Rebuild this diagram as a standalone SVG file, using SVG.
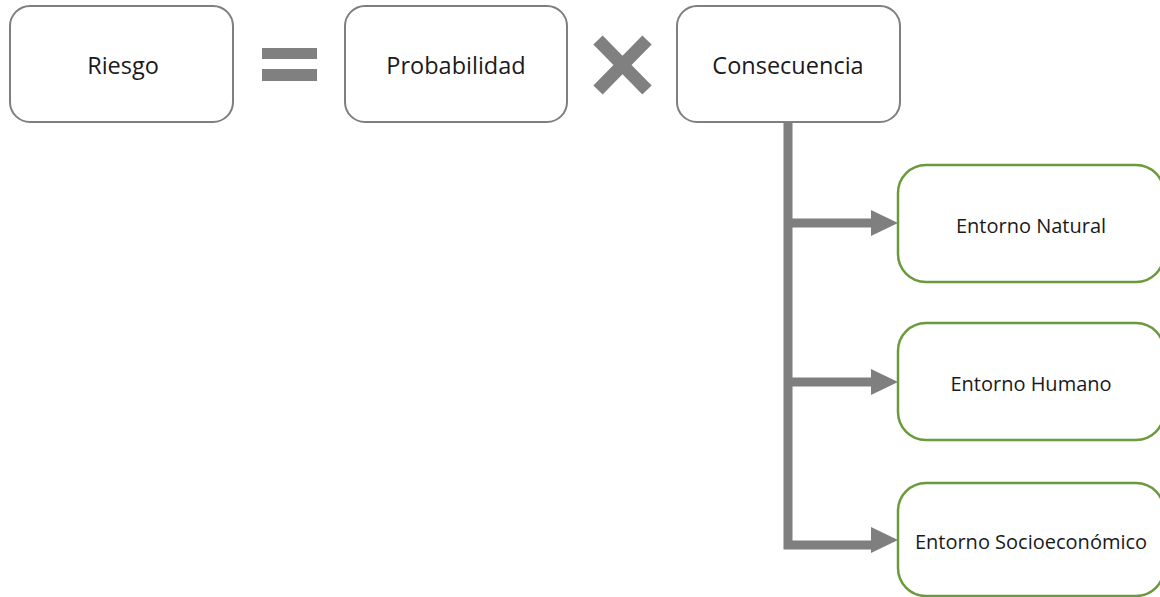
<svg xmlns="http://www.w3.org/2000/svg" width="1160" height="597" viewBox="0 0 1160 597">
  <style>
    .top rect { fill: #ffffff; stroke: #7f7f7f; stroke-width: 2; }
    .sub rect { fill: #ffffff; stroke: #6a9a3c; stroke-width: 2.5; }
    .lbl { font-family: "Open Sans", "Liberation Sans", sans-serif; fill: #1a1a1a; text-anchor: middle; }
    .big { font-size: 23.5px; }
    .small { font-size: 20px; }
    .conn { stroke: #7f7f7f; stroke-width: 9; fill: none; }
    .head { fill: #7f7f7f; }
  </style>
  <rect width="1160" height="597" fill="#ffffff"/>

  <g id="riesgo" class="top">
    <rect x="10" y="6" width="223" height="116" rx="20" ry="20"/>
    <text class="lbl big" x="123" y="74">Riesgo</text>
  </g>

  <g id="equals">
    <rect x="262" y="48" width="55" height="11" fill="#808080"/>
    <rect x="262" y="69" width="55" height="12" fill="#808080"/>
  </g>

  <g id="probabilidad" class="top">
    <rect x="345" y="6" width="222" height="116" rx="20" ry="20"/>
    <text class="lbl big" x="456" y="74">Probabilidad</text>
  </g>

  <g id="times">
    <path d="M598 40 L647 90 M647 40 L598 90" stroke="#808080" stroke-width="13" fill="none"/>
  </g>

  <g id="consecuencia" class="top">
    <rect x="677" y="6" width="223" height="116" rx="20" ry="20"/>
    <text class="lbl big" x="788" y="74">Consecuencia</text>
  </g>

  <g id="connectors">
    <path class="conn" d="M788 122 L788 545 L872 545"/>
    <path class="conn" d="M788 223 L872 223"/>
    <path class="conn" d="M788 382 L872 382"/>
    <polygon class="head" points="871,210 898,223 871,236"/>
    <polygon class="head" points="871,369 898,382 871,395"/>
    <polygon class="head" points="871,527 898,540 871,553"/>
  </g>

  <g id="entorno-natural" class="sub">
    <rect x="898" y="165" width="266" height="117" rx="28" ry="28"/>
    <text class="lbl small" x="1031" y="233">Entorno Natural</text>
  </g>

  <g id="entorno-humano" class="sub">
    <rect x="898" y="323" width="266" height="117" rx="28" ry="28"/>
    <text class="lbl small" x="1031" y="391">Entorno Humano</text>
  </g>

  <g id="entorno-socioeconomico" class="sub">
    <rect x="898" y="483" width="266" height="113" rx="28" ry="28"/>
    <text class="lbl small" x="1031" y="549">Entorno Socioeconómico</text>
  </g>
</svg>
